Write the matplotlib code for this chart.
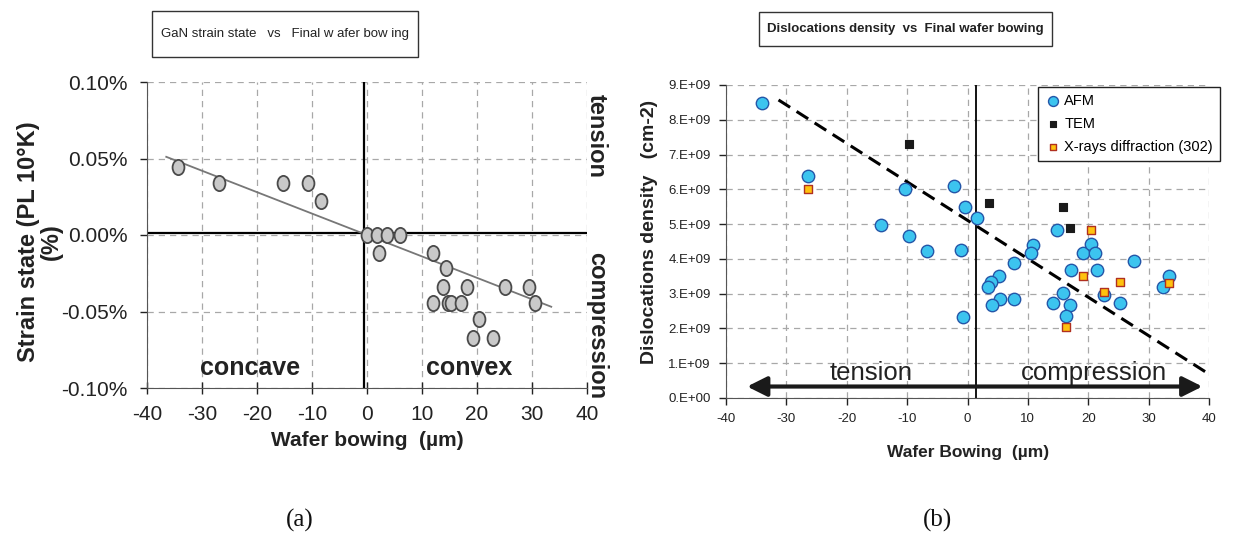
import matplotlib
matplotlib.use("Agg")
import matplotlib.pyplot as plt
import matplotlib.transforms as mtransforms
from matplotlib import font_manager
from matplotlib.path import Path
from matplotlib.patches import ArrowStyle, Rectangle
from matplotlib.ticker import FuncFormatter, MultipleLocator

plt.rcParams["axes.unicode_minus"] = False


def pick(*names):
    have = {f.name for f in font_manager.fontManager.ttflist}
    for n in names:
        if n in have:
            return n
    return "DejaVu Sans"


NARROW = pick("Liberation Sans Narrow", "Liberation Sans")
SANS = pick("Liberation Sans", "DejaVu Sans")
SERIF = pick("Liberation Serif", "DejaVu Serif")

# ---- (a) GaN strain state vs wafer bowing ----
bow_a = [-34.4, -26.9, -15.2, -10.7, -8.3, 0.0, 1.8, 3.7, 6.0, 2.2,
         12.0, 14.3, 13.9, 18.1, 25.0, 29.5, 12.0, 14.8, 15.2, 17.0,
         30.6, 20.4, 19.2, 22.9]
strain_pct = [0.0447, 0.0342, 0.0340, 0.0340, 0.0224, 0.0, 0.0, 0.0, 0.0, -0.0116,
              -0.0116, -0.0218, -0.0338, -0.0338, -0.0338, -0.0338, -0.0443, -0.0443,
              -0.0443, -0.0443, -0.0443, -0.0552, -0.0671, -0.0671]
trend_a_x = [-36.5, 33.5]
trend_a_y = [0.0511, -0.0469]

# ---- (b) dislocation density vs wafer bowing ----
afm_x = [-34.1, -26.5, -14.3, -10.4, -9.7, -6.7, -2.3, -0.45, 1.6, -1.0,
         -0.7, 10.8, 10.6, 7.7, 5.2, 3.9, 3.4, 5.4, 4.1, 7.7,
         14.9, 17.2, 15.9, 14.1, 16.9, 16.3, 19.2, 20.4, 21.2, 21.4,
         22.6, 25.2, 27.6, 32.3, 33.3]
afm_y = [8.47, 6.39, 4.97, 6.02, 4.67, 4.23, 6.11, 5.49, 5.17, 4.26,
         2.33, 4.40, 4.16, 3.88, 3.50, 3.34, 3.18, 2.85, 2.68, 2.85,
         4.84, 3.67, 3.03, 2.73, 2.68, 2.36, 4.16, 4.43, 4.16, 3.67,
         2.96, 2.73, 3.95, 3.19, 3.51]
tem_x = [-9.7, 3.5, 15.9, 16.9]
tem_y = [7.29, 5.62, 5.50, 4.88]
xrd_x = [-26.5, 20.4, 19.2, 22.6, 25.2, 33.3, 16.3]
xrd_y = [6.01, 4.84, 3.50, 3.05, 3.34, 3.30, 2.04]
trend_b_x = [-31.3, 39.7]
trend_b_y = [8.57, 0.72]

x_ticks = [-40, -30, -20, -10, 0, 10, 20, 30, 40]
y_ticks_b = [0, 1, 2, 3, 4, 5, 6, 7, 8, 9]

W, H = 1240, 536
fig = plt.figure(figsize=(12.4, 5.36), dpi=100)
grid_kw = dict(color="#a8a8a8", ls=(0, (5, 4)), lw=0.9)


def px_box(x0, y0, x1, y1):
    # rectangle given in pixel coords from the top-left corner
    fig.patches.append(Rectangle((x0 / W, 1 - y1 / H), (x1 - x0) / W, (y1 - y0) / H,
                                 transform=fig.transFigure, fill=False,
                                 ec="#333333", lw=1))


# ================= left panel =================
ax = fig.add_axes([147 / W, 1 - 388 / H, 440 / W, 306 / H])
ax.set_xlim(-40, 40)
ax.set_ylim(-0.1, 0.1)
ax.set_xticks(x_ticks)
ax.yaxis.set_major_locator(MultipleLocator(0.05))
ax.yaxis.set_major_formatter(FuncFormatter(lambda v, p: f"{v:.2f}%"))
ax.grid(True, **grid_kw)
ax.set_axisbelow(True)
for s in ("top", "right"):
    ax.spines[s].set_visible(False)
for s in ("left", "bottom"):
    ax.spines[s].set_color("#555555")
ax.tick_params(axis="x", direction="inout", length=8, width=1, pad=8,
               labelsize=15, colors="#222222")
ax.tick_params(axis="y", direction="out", length=5, width=1, pad=9,
               labelsize=15, colors="#222222")
for lab in ax.get_xticklabels() + ax.get_yticklabels():
    lab.set_fontfamily(NARROW)

ax.axhline(0.001, color="black", lw=1.6, zorder=2)
ax.axvline(-0.6, color="black", lw=1.6, zorder=2)
ax.plot(trend_a_x, trend_a_y, color="#777777", lw=1.3, zorder=3)

ellipse = Path.unit_circle().transformed(mtransforms.Affine2D().scale(0.78, 1.0))
ax.scatter(bow_a, strain_pct, s=120, marker=ellipse, facecolor="#c9c9c9",
           edgecolor="#4a4a4a", linewidths=1.3, zorder=4)

ax.text(-21.3, -0.087, "concave", ha="center", va="center", fontsize=18,
        fontweight="bold", family=NARROW, color="#222222")
ax.text(18.5, -0.087, "convex", ha="center", va="center", fontsize=18,
        fontweight="bold", family=NARROW, color="#222222")
ax.text(41.7, 0.065, "tension", rotation=-90, ha="center", va="center",
        fontsize=17, fontweight="bold", family=SANS, color="#222222", clip_on=False)
ax.text(41.7, -0.059, "compression", rotation=-90, ha="center", va="center",
        fontsize=17, fontweight="bold", family=SANS, color="#222222", clip_on=False)

fig.text(367 / W, 1 - 440 / H, "Wafer bowing  (µm)", ha="center", va="center",
         fontsize=15, fontweight="bold", family=NARROW, color="#222222")
fig.text(40 / W, 1 - 242 / H, "Strain state (PL 10°K)\n(%)", rotation=90,
         ha="center", va="center", multialignment="center", linespacing=1.0,
         fontsize=17, fontweight="bold", family=SANS, color="#222222")
px_box(152, 11, 418, 57)
fig.text(285 / W, 1 - 34 / H, "GaN strain state   vs   Final w afer bow ing",
         ha="center", va="center", fontsize=9.5, family=NARROW, color="#222222")

# ================= right panel =================
bx = fig.add_axes([726 / W, 1 - 398 / H, 483 / W, 313 / H])
bx.set_xlim(-40, 40)
bx.set_ylim(0, 9)
bx.set_xticks(x_ticks)
bx.set_yticks(y_ticks_b)
bx.yaxis.set_major_formatter(FuncFormatter(lambda v, p: f"{int(v)}.E+{9 if v else 0:02d}"))
bx.grid(True, **grid_kw)
bx.set_axisbelow(True)
for s in ("top", "right"):
    bx.spines[s].set_visible(False)
for s in ("left", "bottom"):
    bx.spines[s].set_color("#555555")
bx.tick_params(direction="out", length=5, width=1, pad=6, labelsize=9.5,
               colors="#222222")
for lab in bx.get_xticklabels() + bx.get_yticklabels():
    lab.set_fontfamily(SANS)

bx.axvline(1.4, color="black", lw=1.3, zorder=2)
bx.plot(trend_b_x, trend_b_y, color="black", lw=2.2, ls=(0, (4.5, 2.5)), zorder=3)

bx.scatter(afm_x, afm_y, s=80, marker="o", facecolor="#3cc4ef", edgecolor="#2456a8",
           linewidths=1.0, zorder=4, label="AFM")
bx.scatter(tem_x, tem_y, s=36, marker="s", facecolor="#1a1a1a", edgecolor="#1a1a1a",
           linewidths=0.8, zorder=4, label="TEM")
bx.scatter(xrd_x, xrd_y, s=36, marker="s", facecolor="#ffc20e", edgecolor="#b03020",
           linewidths=1.0, zorder=5, label="X-rays diffraction (302)")

bx.annotate("", xy=(-36.5, 0.33), xytext=(38.9, 0.33),
            arrowprops=dict(arrowstyle=ArrowStyle("<|-|>", head_length=0.7, head_width=0.35),
                            mutation_scale=17, lw=3, color="#1a1a1a",
                            shrinkA=0, shrinkB=0), zorder=5)
bx.text(-16, 0.72, "tension", ha="center", va="center", fontsize=18.5, family=SANS,
        color="#222222")
bx.text(21, 0.72, "compression", ha="center", va="center", fontsize=18.5, family=SANS,
        color="#222222")

leg = bx.legend(loc="upper right", bbox_to_anchor=(1.023, 0.994), borderaxespad=0,
                fancybox=False, framealpha=1, edgecolor="#222222",
                prop={"family": SANS, "size": 10.5}, markerscale=0.8,
                handletextpad=0.3, labelspacing=0.6, borderpad=0.5,
                handlelength=1.0)
leg.get_frame().set_linewidth(1.0)

fig.text(968 / W, 1 - 452 / H, "Wafer Bowing  (µm)", ha="center", va="center",
         fontsize=12.5, fontweight="bold", family=SANS, color="#222222")
fig.text(649 / W, 1 - 232 / H, "Dislocations density   (cm-2)", rotation=90,
         ha="center", va="center", fontsize=14, fontweight="bold", family=SANS,
         color="#222222")
px_box(759, 12, 1052, 46)
fig.text(905.5 / W, 1 - 29 / H, "Dislocations density  vs  Final wafer bowing",
         ha="center", va="center", fontsize=9.5, fontweight="bold", family=NARROW,
         color="#222222")

fig.text(300 / W, 1 - 520 / H, "(a)", ha="center", va="center", fontsize=18,
         family=SERIF, color="#111111")
fig.text(938 / W, 1 - 520 / H, "(b)", ha="center", va="center", fontsize=18,
         family=SERIF, color="#111111")

fig.savefig("out.png", dpi=100)
